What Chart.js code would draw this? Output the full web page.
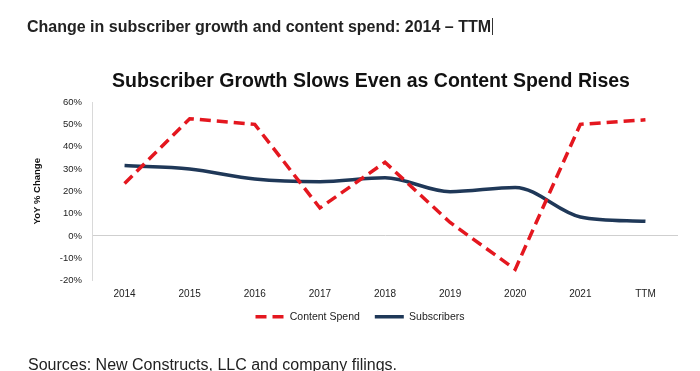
<!DOCTYPE html>
<html>
<head>
<meta charset="utf-8">
<script src="https://cdn.jsdelivr.net/npm/chart.js@4/dist/chart.umd.min.js"></script>
<style>
  html, body { margin: 0; padding: 0; background: #fff; }
  #wrap { position: relative; width: 700px; height: 371px; overflow: hidden; }
  #c { position: absolute; left: 0; top: 0; }
  .txt { position: absolute; white-space: nowrap; font-family: "Liberation Sans", Arial, sans-serif; color: #222; }
  #head { left: 27px; top: 18px; font-size: 16px; font-weight: bold; }
  #head span { border-right: 1px solid #333; padding-right: 1px; }
  #ctitle { left: 112px; top: 69px; font-size: 19.5px; font-weight: bold; color: #111; }
  #src { left: 28px; top: 356px; font-size: 16px; color: #222; }
</style>
</head>
<body>
<div id="wrap">
  <canvas id="c" width="700" height="371"></canvas>
  <div class="txt" id="head"><span>Change in subscriber growth and content spend: 2014 – TTM</span></div>
  <div class="txt" id="ctitle">Subscriber Growth Slows Even as Content Spend Rises</div>
  <div class="txt" id="src">Sources: New Constructs, LLC and company filings.</div>
</div>
<script>
const categories = ['2014', '2015', '2016', '2017', '2018', '2019', '2020', '2021', 'TTM'];
const contentSpend = [23.5, 52.5, 50, 12.5, 33, 6, -15, 50, 52];
const subscribers = [31.5, 30, 25.5, 24.3, 26, 19.8, 21.7, 8.5, 6.5];
const yTicks = [-20, -10, 0, 10, 20, 30, 40, 50, 60];

const RED = '#e4171f';
const NAVY = '#1f3858';
const FONT = '"Liberation Sans", Arial, sans-serif';

new Chart(document.getElementById('c'), {
  type: 'line',
  data: {
    labels: categories,
    datasets: [
      {
        label: 'Content Spend',
        data: contentSpend,
        borderColor: RED,
        backgroundColor: RED,
        borderWidth: 3.5,
        borderDash: [11, 6],
        pointRadius: 0,
        tension: 0,
        fill: false
      },
      {
        label: 'Subscribers',
        data: subscribers,
        borderColor: NAVY,
        backgroundColor: NAVY,
        borderWidth: 3.5,
        pointRadius: 0,
        tension: 0.25,
        cubicInterpolationMode: 'monotone',
        fill: false
      }
    ]
  },
  options: {
    responsive: false,
    animation: false,
    devicePixelRatio: 1,
    layout: { padding: { left: 20, right: 0, top: 102, bottom: 39 } },
    plugins: {
      title: { display: false },
      tooltip: { enabled: false },
      legend: {
        position: 'bottom',
        labels: {
          usePointStyle: true,
          pointStyleWidth: 29,
          boxHeight: 10,
          padding: 15,
          color: '#222',
          font: { family: FONT, size: 10.5 },
          generateLabels(chart) {
            const items = Chart.defaults.plugins.legend.labels.generateLabels(chart);
            items.forEach(it => { it.pointStyle = 'line'; it.lineWidth = 3.5; });
            items[0].lineDash = [11, 6];
            return items;
          }
        }
      }
    },
    scales: {
      x: {
        offset: true,
        grid: { display: false, drawTicks: false },
        border: { display: false },
        ticks: {
          padding: 8,
          color: '#222',
          maxRotation: 0,
          font: { family: FONT, size: 10 }
        },
        afterFit(scale) {
          scale.height = 16;
          scale._computeLabelArea = () => undefined;
        }
      },
      y: {
        min: -20,
        max: 60,
        afterBuildTicks(scale) { scale.ticks = yTicks.map(v => ({ value: v })); },
        grid: {
          drawTicks: false,
          color: ctx => (ctx.tick && ctx.tick.value === 0 ? '#cfcfcf' : 'rgba(0,0,0,0)'),
          lineWidth: 1
        },
        border: { display: true, color: '#d9d9d9', width: 1 },
        ticks: {
          padding: 10,
          color: '#222',
          font: { family: FONT, size: 9.5 },
          callback: v => v + '%'
        },
        title: {
          display: true,
          text: 'YoY % Change',
          color: '#111',
          font: { family: FONT, size: 9.5, weight: 'bold' },
          padding: { top: 12, bottom: 0 }
        },
        afterFit(scale) { scale.width = 72; }
      },
      yRight: {
        position: 'right',
        display: true,
        min: -20,
        max: 60,
        ticks: { display: false },
        grid: { display: false, drawTicks: false },
        border: { display: false },
        afterFit(scale) { scale.width = 22; }
      }
    }
  }
});
</script>
</body>
</html>
